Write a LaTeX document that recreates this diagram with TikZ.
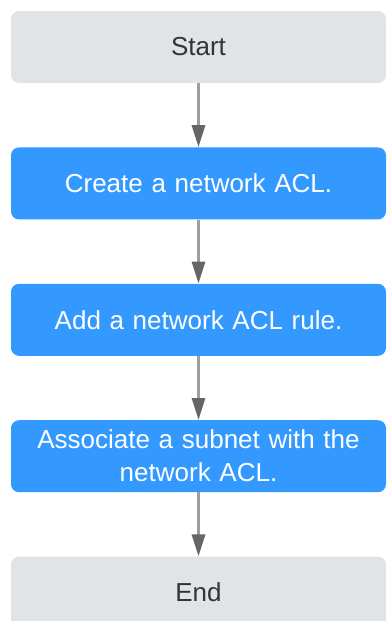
\documentclass[tikz,border=0pt]{standalone}
\usepackage{fontspec}
\setmainfont{Liberation Sans}
\usetikzlibrary{arrows.meta,positioning}
\definecolor{EndClr}{rgb}{0.882,0.894,0.902}
\definecolor{StepClr}{rgb}{0.2,0.6,1}
\definecolor{LineClr}{rgb}{0.62,0.62,0.62}
\definecolor{TipClr}{rgb}{0.4,0.4,0.4}
\definecolor{TxtClr}{rgb}{0.2,0.2,0.22}

\begin{document}
\begin{tikzpicture}[x=1pt,y=1pt,
  box/.style={rectangle,rounded corners=8pt,minimum width=375pt,minimum height=72pt,
    text width=360pt,align=center,inner sep=0pt,font=\fontsize{26}{33}\selectfont},
  endbox/.style={box,fill=EndClr,text=TxtClr},
  stepbox/.style={box,fill=StepClr,text=white},
  flow/.style={draw=LineClr,line width=3pt,-{Triangle[width=13pt,length=22pt,color=TipClr]}}]
\useasboundingbox (0,0) rectangle (387,-621);

\node[endbox] (start) at (198.5,-47) {Start};
\node[stepbox,below=64pt of start] (create) {Create a network ACL.};
\node[stepbox,below=64pt of create] (rule) {Add a network ACL rule.};
\node[stepbox,below=64pt of rule] (assoc) {Associate a subnet with the\\network ACL.};
\node[endbox,below=64pt of assoc] (end) {End};

\draw[flow] (start) -- (create);
\draw[flow] (create) -- (rule);
\draw[flow] (rule) -- (assoc);
\draw[flow] (assoc) -- (end);

\end{tikzpicture}
\end{document}
